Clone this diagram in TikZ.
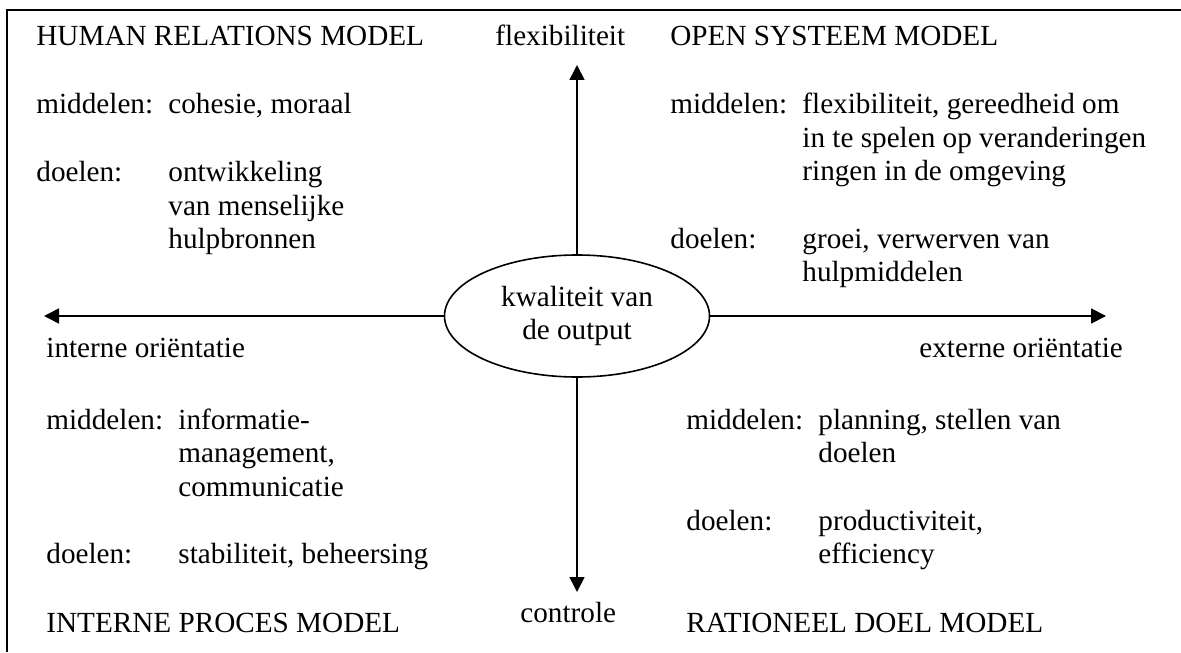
\documentclass[tikz,border=0pt]{standalone}
\usepackage{fontspec}
\setmainfont{Liberation Serif}
\usetikzlibrary{shapes.geometric,arrows.meta}

\newcommand{\quadblock}[2]{\begin{tabular}[t]{@{}p{66pt}@{}l@{}}#1 & #2\end{tabular}}

\begin{document}
\begin{tikzpicture}
[x=0.5pt,y=-0.5pt,
  arrowDecorate/.style={-{Triangle[length=7.5pt,width=7.5pt]},line width=0.85pt},%
  textDecorate/.style={anchor=base west,inner sep=0pt,font=\fontsize{14.6}{16.75}\selectfont},%
  ellipseDecorate/.style={shape=ellipse,draw,line width=0.8pt,minimum width=132.5pt,
    minimum height=61pt,inner sep=0pt,align=center,font=\fontsize{14.6}{16.2}\selectfont}]
\useasboundingbox (0,0) rectangle (1181,652);
%% frame
\draw[line width=1.1pt] (7,652) -- (7,10) -- (1181,10);
%% centre
\node (output) at (577,316) [ellipseDecorate] {kwaliteit van\\de output};
%% arrow ends
\coordinate (flexTip) at (577,65);
\coordinate (ctrlTip) at (577,592);
\coordinate (intTip) at (44,320);
\coordinate (extTip) at (1106,317);
%% titles and axis labels
\foreach \nodename/\x/\y/\txt in {hrm/36/46/HUMAN RELATIONS MODEL, osm/670/46/OPEN SYSTEEM MODEL,
  ipm/46/632/INTERNE PROCES MODEL, rdm/686/632/RATIONEEL DOEL MODEL,
  flex/495/46/flexibiliteit, intern/46/357/interne oriëntatie,
  extern/919/357/externe oriëntatie, ctrl/520/622/controle}
{
  \node (\nodename) at (\x,\y) [textDecorate] {\txt};
}
%% middelen and doelen
\node (hrmMid) at (36,114) [textDecorate] {\quadblock{middelen:}{cohesie, moraal}};
\node (hrmDoel) at (36,182) [textDecorate] {\quadblock{doelen:}{ontwikkeling\\ & van menselijke\\ & hulpbronnen}};
\node (osmMid) at (670,114) [textDecorate] {\quadblock{middelen:}{flexibiliteit, gereedheid om\\ & in te spelen op veranderingen\\ & ringen in de omgeving}};
\node (osmDoel) at (670,248) [textDecorate] {\quadblock{doelen:}{groei, verwerven van\\ & hulpmiddelen}};
\node (ipmMid) at (46,429) [textDecorate] {\quadblock{middelen:}{informatie-\\ & management,\\ & communicatie}};
\node (ipmDoel) at (46,563) [textDecorate] {\quadblock{doelen:}{stabiliteit, beheersing}};
\node (rdmMid) at (686,429) [textDecorate] {\quadblock{middelen:}{planning, stellen van\\ & doelen}};
\node (rdmDoel) at (686,530) [textDecorate] {\quadblock{doelen:}{productiviteit,\\ & efficiency}};
%% axes
\path
  (output.north) edge[arrowDecorate] (flexTip)
  (output.south) edge[arrowDecorate] (ctrlTip)
  (output.west) edge[arrowDecorate] (output.west -| intTip)
  (output.east) edge[arrowDecorate] (output.east -| extTip);
\end{tikzpicture}
\end{document}
